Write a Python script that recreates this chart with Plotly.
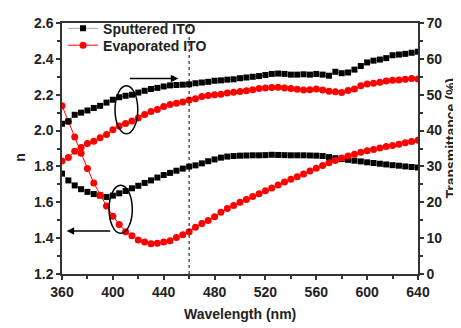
import plotly.graph_objects as go

# ---------------- data ----------------
wavelength = list(range(360, 645, 5))

n_sputtered = [1.760, 1.722, 1.694, 1.673, 1.658, 1.646, 1.638, 1.630, 1.637, 1.650,
               1.663, 1.678, 1.692, 1.708, 1.722, 1.738, 1.752, 1.764, 1.776, 1.788,
               1.799, 1.806, 1.817, 1.829, 1.839, 1.849, 1.855, 1.858, 1.860, 1.861,
               1.862, 1.862, 1.863, 1.865, 1.864, 1.863, 1.862, 1.862, 1.862, 1.861,
               1.860, 1.858, 1.852, 1.846, 1.841, 1.837, 1.832, 1.828, 1.823, 1.819,
               1.815, 1.811, 1.807, 1.804, 1.800, 1.797, 1.794]

n_evaporated = [2.139, 2.050, 1.964, 1.874, 1.789, 1.708, 1.639, 1.579, 1.522, 1.476,
                1.436, 1.413, 1.390, 1.379, 1.369, 1.372, 1.378, 1.386, 1.404, 1.419,
                1.436, 1.461, 1.481, 1.499, 1.520, 1.544, 1.565, 1.582, 1.600, 1.616,
                1.632, 1.648, 1.664, 1.680, 1.697, 1.713, 1.729, 1.742, 1.758, 1.774,
                1.790, 1.805, 1.820, 1.833, 1.847, 1.858, 1.868, 1.879, 1.887, 1.895,
                1.903, 1.911, 1.917, 1.924, 1.932, 1.939, 1.946]

T_sputtered = [41.9, 42.6, 44.4, 45.0, 45.6, 46.3, 46.9, 47.8, 48.6, 49.3,
               49.7, 50.0, 50.6, 51.1, 51.6, 51.9, 52.3, 52.6, 52.7, 52.8,
               52.9, 53.2, 53.4, 53.6, 53.9, 54.0, 54.2, 54.3, 54.6, 54.8,
               55.0, 55.2, 55.5, 55.8, 55.9, 55.8, 55.6, 55.6, 55.7, 55.6,
               55.8, 55.6, 55.3, 56.4, 56.0, 56.2, 57.0, 58.0, 59.0, 59.5,
               59.8, 60.2, 61.0, 61.2, 61.4, 61.7, 62.0]

T_evaporated = [31.5, 32.5, 34.2, 35.3, 36.4, 37.0, 38.0, 38.9, 40.2, 41.3,
                42.0, 42.7, 43.5, 44.5, 45.3, 45.9, 46.7, 47.3, 47.6, 48.0,
                48.5, 48.9, 49.5, 49.8, 50.0, 50.1, 50.5, 50.7, 50.9, 51.1,
                51.4, 51.7, 51.9, 52.0, 52.1, 51.9, 51.7, 51.5, 51.3, 51.4,
                51.6, 51.3, 51.0, 50.8, 50.6, 51.2, 51.6, 52.5, 53.0, 53.2,
                53.5, 53.8, 54.0, 54.1, 54.3, 54.5, 54.4]

series_names = ["Sputtered ITO", "Evaporated ITO"]
x_ticks = [360, 400, 440, 480, 520, 560, 600, 640]
n_ticks = [1.2, 1.4, 1.6, 1.8, 2.0, 2.2, 2.4, 2.6]
T_ticks = [0, 10, 20, 30, 40, 50, 60, 70]

# ---------------- styles ----------------
FONT = "Liberation Sans, Arial, sans-serif"
AX = "#333333"
TXT = "#222222"
BLACK_LINE = "#8db3a3"
RED = "#ff0000"

fig = go.Figure()

fig.add_trace(go.Scatter(x=wavelength, y=n_sputtered, name=series_names[0],
                         mode="lines+markers", yaxis="y", legend="legend",
                         line=dict(color=BLACK_LINE, width=1),
                         marker=dict(symbol="square", size=6, color="black")))
fig.add_trace(go.Scatter(x=wavelength, y=n_evaporated, name=series_names[1],
                         mode="lines+markers", yaxis="y", legend="legend2",
                         line=dict(color=RED, width=1),
                         marker=dict(symbol="circle", size=7, color=RED)))
fig.add_trace(go.Scatter(x=wavelength, y=T_sputtered, name=series_names[0],
                         mode="lines+markers", yaxis="y2", showlegend=False,
                         line=dict(color=BLACK_LINE, width=1),
                         marker=dict(symbol="square", size=6, color="black")))
fig.add_trace(go.Scatter(x=wavelength, y=T_evaporated, name=series_names[1],
                         mode="lines+markers", yaxis="y2", showlegend=False,
                         line=dict(color=RED, width=1),
                         marker=dict(symbol="circle", size=7, color=RED)))

tickfont = dict(family=FONT, size=14, color=TXT, weight="bold")
legfont = dict(family=FONT, size=14, color=TXT, weight="bold")
titlefont = dict(family=FONT, size=14, color=TXT)


def minor(dt, t0):
    return dict(ticks="outside", ticklen=3, tickwidth=1.5, tickcolor=AX,
                dtick=dt, tick0=t0, showgrid=False)


common = dict(ticks="outside", ticklen=4, tickwidth=1.5, tickcolor=AX,
              showline=True, linecolor=AX, linewidth=1.5, showgrid=False,
              zeroline=False, tickfont=tickfont, automargin=False)

# page body has an 8px default margin, so the figure is 8px smaller than the window
fig.update_layout(
    width=453, height=320,
    margin=dict(l=54, r=43, t=5, b=54),
    plot_bgcolor="white", paper_bgcolor="white",
    font=dict(family=FONT, size=14, color=TXT),
    legend=dict(x=0.003, y=0.977, xanchor="left", yanchor="middle",
                bgcolor="rgba(0,0,0,0)", borderwidth=0, font=legfont,
                itemwidth=30),
    legend2=dict(x=0.003, y=0.910, xanchor="left", yanchor="middle",
                 bgcolor="rgba(0,0,0,0)", borderwidth=0, font=legfont,
                 itemwidth=30),
    xaxis=dict(range=[360, 640], tickvals=x_ticks, mirror=True,
               minor=minor(20, 360), **common),
    yaxis=dict(range=[1.2, 2.6], tickvals=n_ticks, tickformat=".1f",
               minor=minor(0.1, 1.2), **common),
    yaxis2=dict(range=[0, 70], tickvals=T_ticks, overlaying="y", side="right",
                minor=minor(5, 0), **common),
)

# axis titles as text
fig.add_annotation(text="<b>Wavelength (nm)</b>", xref="paper", yref="paper",
                   x=0.5, y=-0.16, xanchor="center", yanchor="middle",
                   showarrow=False, font=titlefont)
fig.add_annotation(text="<b>n</b>", xref="paper", yref="paper", textangle=-90,
                   x=-0.118, y=0.467, xanchor="center", yanchor="middle",
                   showarrow=False, font=titlefont)
fig.add_annotation(text="<b>Transmittance (%)</b>", xref="paper", yref="paper", textangle=-90,
                   x=1.093, y=0.54, xanchor="center", yanchor="middle",
                   showarrow=False, font=titlefont)

# dashed vertical line at 460 nm
fig.add_shape(type="line", xref="x", yref="paper", x0=460, x1=460, y0=0, y1=1,
              line=dict(color="black", width=1, dash="3px,3px"))

# ellipses
fig.add_shape(type="circle", xref="x", yref="y", x0=401.7, x1=419.6, y0=1.982, y1=2.250,
              line=dict(color="black", width=1.5))
fig.add_shape(type="circle", xref="x", yref="y", x0=397.0, x1=415.3, y0=1.427, y1=1.695,
              line=dict(color="black", width=1.5))

# arrows
fig.add_annotation(x=451.5, y=2.291, ax=412.2, ay=2.291, xref="x", yref="y",
                   axref="x", ayref="y", text="", showarrow=True,
                   arrowhead=2, arrowsize=1, arrowwidth=1.5, arrowcolor="black")
fig.add_annotation(x=363.7, y=1.440, ax=399.1, ay=1.440, xref="x", yref="y",
                   axref="x", ayref="y", text="", showarrow=True,
                   arrowhead=2, arrowsize=1, arrowwidth=1.5, arrowcolor="black")

fig.write_html("out.html")
